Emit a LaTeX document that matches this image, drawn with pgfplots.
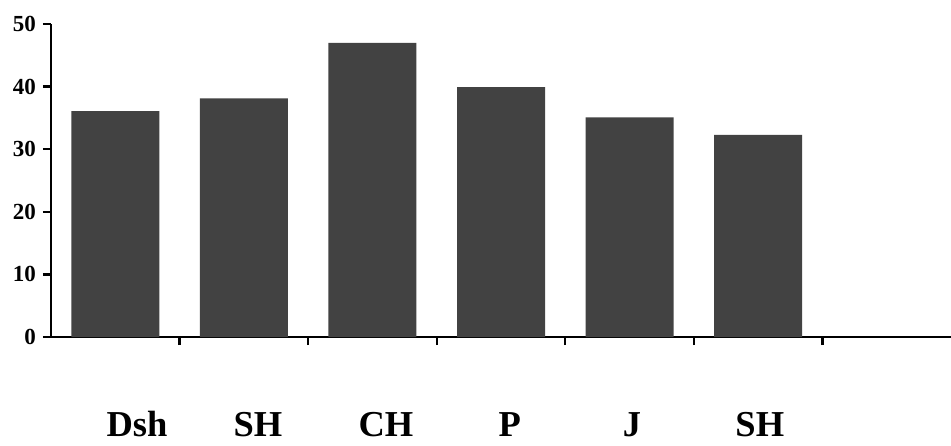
\documentclass[border=0pt]{standalone}
\usepackage{fontspec}
\setmainfont{Liberation Serif}
\usepackage{pgfplots}
\pgfplotsset{compat=1.18}
\definecolor{barc}{RGB}{66,66,66}
\begin{document}
\begin{tikzpicture}
\useasboundingbox (-51pt,-108pt) rectangle (900pt,337pt);
\begin{axis}[
    at={(0pt,0pt)}, anchor=south west,
    width=900pt, height=313pt, scale only axis,
    xmin=-0.5, xmax=6.5, ymin=0, ymax=50,
    axis x line=bottom, axis y line=left,
    axis line style={-, line width=2.6pt, black},
    ytick={0,10,20,30,40,50},
    xtick={0.5,1.5,2.5,3.5,4.5,5.5},
    xticklabels={},
    tick align=outside,
    major tick length=8pt,
    tick style={line width=2.4pt, black},
    /pgf/number format/assume math mode=true,
    y tick label style={font=\fontsize{23}{25}\selectfont\bfseries, inner sep=2pt, xshift=-5pt},
    extra x ticks={0.169,1.110,2.105,3.069,4.018,5.013},
    extra x tick labels={Dsh,SH,CH,P,J,SH},
    extra x tick style={major tick length=0pt,
        tick label style={anchor=base, yshift=-99pt, inner sep=0pt,
            font=\fontsize{36.5}{40}\selectfont\bfseries}},
    ybar, bar width=88pt,
]
\addplot[fill=barc, draw=none] coordinates {
    (0,36.1) (1,38.1) (2,47.0) (3,39.9) (4,35.1) (5,32.3)
};
\end{axis}
\end{tikzpicture}
\end{document}
